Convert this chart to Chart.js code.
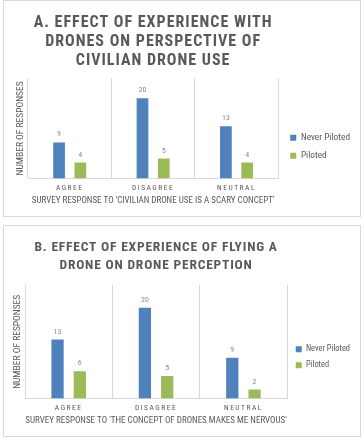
<!DOCTYPE html>
<html>
<head>
<meta charset="utf-8">
<script src="https://cdn.jsdelivr.net/npm/chart.js@4/dist/chart.umd.min.js"></script>
<style>
    body { margin: 0; background: #fff; }
    .box { position: absolute; left: 3px; width: 356px; border: 1px solid #d9d9d9; background: #fff; }
    #boxA { top: 0; height: 215px; }
    #boxB { top: 225px; height: 210px; }
</style>
</head>
<body>
<div class="box" id="boxA"><canvas id="chartScary"></canvas></div>
<div class="box" id="boxB"><canvas id="chartNervous"></canvas></div>
<script>
// ---------- DATA ----------
const categories = ['AGREE', 'DISAGREE', 'NEUTRAL'];
const seriesNames = ['Never Piloted', 'Piloted'];
const scaryNever = [9, 20, 13];
const scaryPiloted = [4, 5, 4];
const nervousNever = [13, 20, 9];
const nervousPiloted = [6, 5, 2];
const titleA = ['A. EFFECT OF EXPERIENCE WITH', 'DRONES ON PERSPECTIVE OF', 'CIVILIAN DRONE USE'];
const titleB = ['B. EFFECT OF EXPERIENCE OF FLYING A', 'DRONE ON DRONE PERCEPTION'];
const xTitleA = "SURVEY RESPONSE TO 'CIVILIAN DRONE USE IS A SCARY CONCEPT'";
const xTitleB = "SURVEY RESPONSE TO 'THE CONCEPT OF DRONES MAKES ME NERVOUS'";
const yTitle = 'NUMBER OF RESPONSES';

const condensed = "'Roboto Condensed', 'DejaVu Sans Condensed', sans-serif";
const blue = '#4f81bd';
const green = '#9bbb59';
const textGrey = '#595959';
const lineGrey = '#d9d9d9';

Chart.defaults.font.family = condensed;
Chart.defaults.color = textGrey;

// letter spacing for the title and the category labels
function spaced(obj, fn, ls) {
    if (!obj || obj['_ls_' + fn]) return;
    const orig = obj[fn];
    obj[fn] = function () {
        const c = this.ctx;
        c.save();
        c.letterSpacing = ls;
        orig.apply(this, arguments);
        c.restore();
    };
    obj['_ls_' + fn] = true;
}
const letterSpacing = {
    id: 'letterSpacing',
    beforeDraw(chart, args, opts) {
        spaced(chart.titleBlock, 'draw', opts.title);
        spaced(chart.scales.x, 'drawLabels', opts.ticks);
    }
};

// push the legend a few px away from the plot area
const legendGap = {
    id: 'legendGap',
    afterInit(chart, args, opts) {
        const lg = chart.legend;
        const dx = opts.dx;
        const fit = lg.fit;
        const draw = lg.draw;
        lg.fit = function () {
            fit.apply(this, arguments);
            this.width += dx;
        };
        lg.draw = function () {
            const c = this.ctx;
            c.save();
            c.translate(dx, 0);
            draw.apply(this, arguments);
            c.restore();
        };
    }
};

// values above the bars
const valueLabels = {
    id: 'valueLabels',
    afterDatasetsDraw(chart) {
        const ctx = chart.ctx;
        ctx.save();
        ctx.font = '8px ' + condensed;
        ctx.fillStyle = '#8c8c8c';
        ctx.textAlign = 'center';
        ctx.textBaseline = 'alphabetic';
        chart.data.datasets.forEach(function (ds, i) {
            chart.getDatasetMeta(i).data.forEach(function (bar, j) {
                ctx.fillText(ds.data[j], bar.x, bar.y - 6);
            });
        });
        ctx.restore();
    }
};

function makeChart(id, o) {
    return new Chart(document.getElementById(id), {
        type: 'bar',
        data: {
            labels: categories,
            datasets: [
                { label: seriesNames[0], data: o.never, backgroundColor: blue, borderWidth: 0 },
                { label: seriesNames[1], data: o.piloted, backgroundColor: green, borderWidth: 0 }
            ]
        },
        options: {
            responsive: true,
            maintainAspectRatio: false,
            animation: false,
            categoryPercentage: 0.51,
            barPercentage: 0.55,
            layout: { padding: o.padding },
            plugins: {
                letterSpacing: { title: o.titleSpacing, ticks: '1.5px' },
                legendGap: { dx: o.gap },
                title: {
                    display: true,
                    text: o.title,
                    fullSize: false,
                    color: textGrey,
                    font: { size: o.titleSize, weight: 'bold', lineHeight: o.titleLine },
                    padding: o.titlePad
                },
                legend: {
                    position: 'right',
                    fullSize: false,
                    title: { display: true, text: '', font: { size: 10 }, padding: { top: o.legendShift, bottom: 0 } },
                    labels: {
                        boxWidth: 6,
                        boxHeight: 6,
                        padding: o.legendGap,
                        color: textGrey,
                        font: { size: o.legendSize }
                    }
                },
                tooltip: { enabled: false }
            },
            scales: {
                x: {
                    grid: { color: lineGrey, offset: true, drawTicks: false },
                    border: { color: lineGrey },
                    ticks: { font: { size: 7.5 }, padding: 5.5, color: textGrey },
                    title: { display: true, text: o.xTitle, font: { size: 9 }, padding: { top: -3, bottom: 0 }, color: textGrey }
                },
                y: {
                    min: 0,
                    max: 25,
                    grid: { display: false, drawTicks: false },
                    border: { display: false },
                    ticks: { display: false },
                    title: { display: true, text: yTitle, font: { size: 9.5 }, padding: { top: 6, bottom: 2 }, color: textGrey }
                }
            }
        },
        plugins: [letterSpacing, legendGap, valueLabels]
    });
}

makeChart('chartScary', {
    never: scaryNever, piloted: scaryPiloted,
    title: titleA, xTitle: xTitleA,
    titleSize: 16, titleLine: 1.19, titleSpacing: '1px', titlePad: { top: 12.5, bottom: 7.5 },
    padding: { left: 4.6, right: 0, top: 0, bottom: 9.6 },
    gap: 3.3, legendShift: 25, legendGap: 8.7, legendSize: 9.3
});
makeChart('chartNervous', {
    never: nervousNever, piloted: nervousPiloted,
    title: titleB, xTitle: xTitleB,
    titleSize: 13.5, titleLine: 1.333, titleSpacing: '0.8px', titlePad: { top: 13, bottom: 10 },
    padding: { left: 1.6, right: 0, top: 0, bottom: 9.6 },
    gap: 1, legendShift: 19, legendGap: 7.65, legendSize: 8.35
});
</script>
</body>
</html>
